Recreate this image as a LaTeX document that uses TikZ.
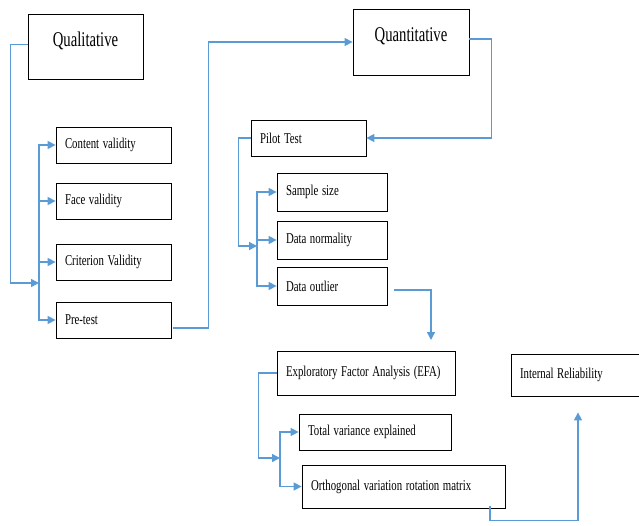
\documentclass[tikz,border=0pt]{standalone}
\usepackage{fontspec}
\usepackage{graphicx}
\setmainfont{Liberation Serif}
\usetikzlibrary{arrows.meta}
\definecolor{flowblue}{RGB}{91,155,213}
\newcommand{\narrow}[1]{\scalebox{0.72}[1]{#1}}
\newcommand{\wide}[1]{\scalebox{0.70}[1]{#1}}
\begin{document}
\begin{tikzpicture}[x=1pt,y=-1pt,
  box/.style={draw, rectangle, line width=0.8pt, inner xsep=9pt, text width=#1, align=left, font=\fontsize{15}{17}\selectfont},
  bigbox/.style={draw, rectangle, line width=0.8pt, inner sep=0pt, minimum width=115pt, text height=32pt, text depth=33pt, align=center, font=\fontsize{21}{23}\selectfont},
  flow/.style={draw=flowblue, line width=1.5pt, -{Triangle[length=8pt,width=8pt]}}]
\useasboundingbox (0,0) rectangle (639,525);

% qualitative part
\node[bigbox] (qual) at (85.5,46.5) {\wide{Qualitative}};
\node[box=97pt, minimum height=36pt] (content) at (113.5,145) {\narrow{Content validity}};
\node[box=97pt, minimum height=36pt] (face) at (113.5,201) {\narrow{Face validity}};
\node[box=97pt, minimum height=36pt] (crit) at (113.5,262) {\narrow{Criterion Validity}};
\node[box=97pt, minimum height=36pt] (pretest) at (113.5,320) {\narrow{Pre-test}};
\coordinate (qtrunk) at (39,283);

% quantitative part
\node[bigbox, minimum width=116pt, text height=32pt, text depth=34pt] (quant) at (411,42) {\wide{Quantitative}};
\node[box=97pt, minimum height=36pt] (pilot) at (308.5,138) {\narrow{Pilot Test}};
\node[box=92pt, minimum height=38pt] (sample) at (332,192) {\narrow{Sample size}};
\node[box=92pt, minimum height=38pt] (normal) at (332,240) {\narrow{Data normality}};
\node[box=92pt, minimum height=38pt] (outlier) at (332,286) {\narrow{Data outlier}};
\coordinate (ptrunk) at (257,246);

% factor analysis
\node[box=160pt, minimum height=44pt] (efa) at (366,373) {\narrow{Exploratory Factor Analysis (EFA)}};
\node[box=134pt, minimum height=36pt] (totvar) at (375,432) {\narrow{Total variance explained}};
\node[box=185pt, minimum height=43pt] (ortho) at (403.5,486.5) {\narrow{Orthogonal variation rotation matrix}};
\node[box=116pt, minimum height=42pt] (intrel) at (578,375) {\narrow{Internal Reliability}};
\coordinate (etrunk) at (280,458);
\coordinate (efain) at (431,351);

\draw[flow] ([yshift=2pt]qual.west) -- ++(-17,0) |- (qtrunk);
\foreach \n in {content,face,crit,pretest}
  \draw[flow] (qtrunk) |- (\n.west);
\draw[flow] ([xshift=2pt,yshift=-8pt]pretest.east) -- ++(35,0) |- (quant.west);
\draw[flow] ([yshift=3pt]quant.east) -- ++(22,0) |- (pilot.east);
\draw[flow] (pilot.west) -- ++(-12,0) |- (ptrunk);
\foreach \n in {sample,normal,outlier}
  \draw[flow] (ptrunk) |- (\n.west);
\draw[flow, shorten >=11pt] ([xshift=7pt,yshift=-4pt]outlier.east) -| (efain);
\draw[flow] (efa.west) -- ++(-18,0) |- (etrunk);
\foreach \n in {totvar,ortho}
  \draw[flow] (etrunk) |- (\n.west);
\draw[flow, shorten >=16pt] ([xshift=86.5pt,yshift=2pt]ortho.south) -- ++(0,14) -| (intrel.south);
\end{tikzpicture}
\end{document}
